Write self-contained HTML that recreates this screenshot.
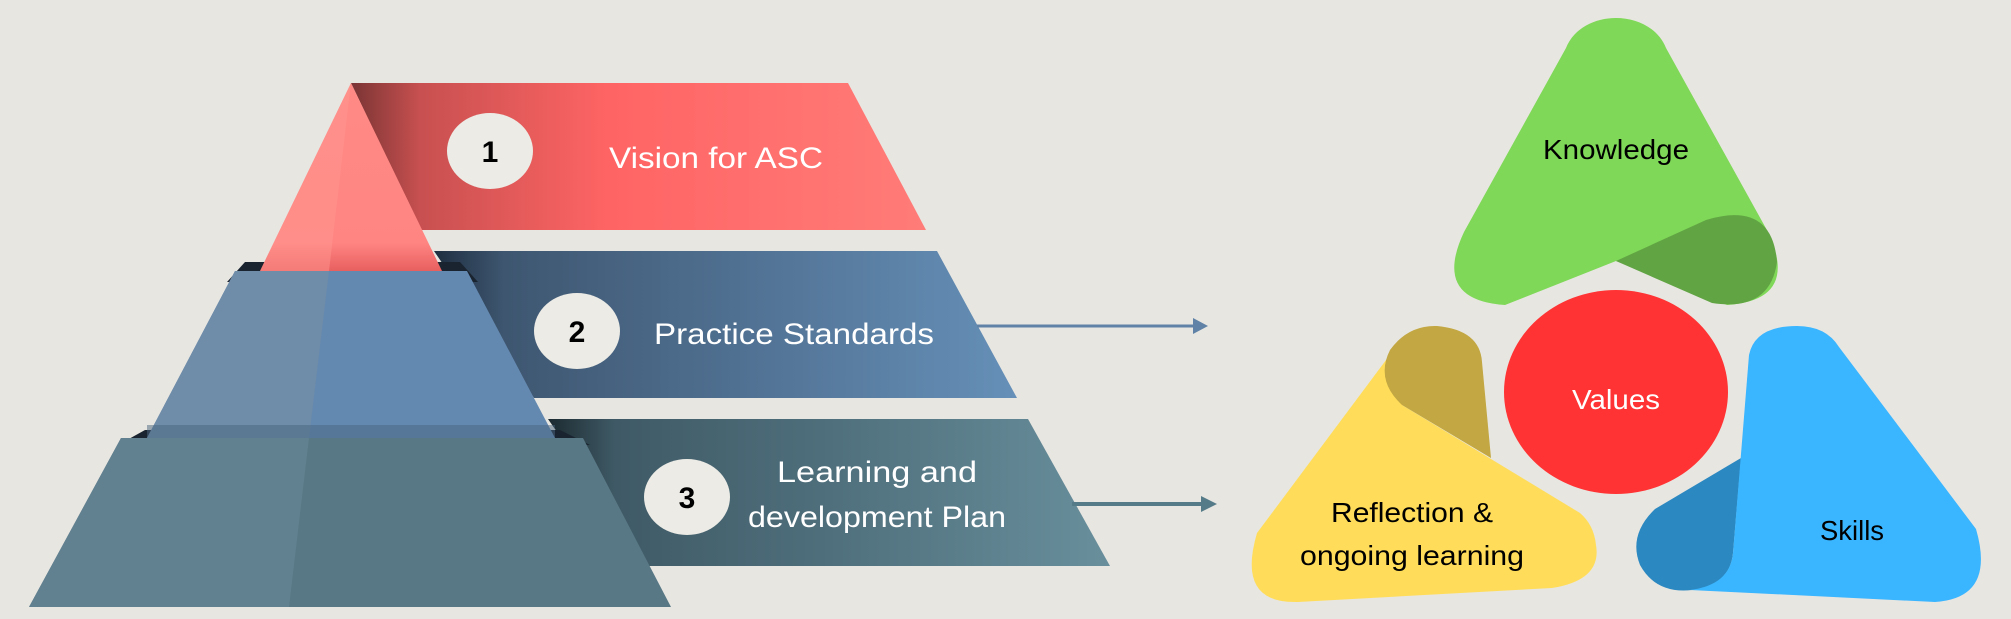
<!DOCTYPE html>
<html><head><meta charset="utf-8"><style>
html,body{margin:0;padding:0;background:#e8e6e1;}
svg{display:block;}
text{font-family:"Liberation Sans",sans-serif;}
</style></head><body>
<svg width="2011" height="619" viewBox="0 0 2011 619" xmlns="http://www.w3.org/2000/svg">
<defs>
<linearGradient id="gr" x1="0" x2="1" y1="0" y2="0">
<stop offset="0" stop-color="#7a3434"/><stop offset="0.12" stop-color="#c85050"/><stop offset="0.45" stop-color="#ff6464"/><stop offset="1" stop-color="#ff7c78"/></linearGradient>
<linearGradient id="gb" x1="0" x2="1" y1="0" y2="0">
<stop offset="0" stop-color="#1e2e40"/><stop offset="0.12" stop-color="#3e5670"/><stop offset="0.5" stop-color="#4f6f90"/><stop offset="1" stop-color="#6690b8"/></linearGradient>
<linearGradient id="gt" x1="0" x2="1" y1="0" y2="0">
<stop offset="0" stop-color="#1c2a30"/><stop offset="0.12" stop-color="#3f5a66"/><stop offset="0.5" stop-color="#4f6f7c"/><stop offset="1" stop-color="#698f9c"/></linearGradient>
<linearGradient id="gtri" x1="0" x2="0" y1="0" y2="1">
<stop offset="0" stop-color="#ff8a85"/><stop offset="0.85" stop-color="#ff8582"/><stop offset="1" stop-color="#e86060"/></linearGradient>
</defs>

<polygon points="351,83 848,83 926,230 421,230" fill="url(#gr)"/>
<polygon points="434,251 937,251 1017,398 534,398" fill="url(#gb)"/>
<polygon points="548,419 1028,419 1110,566 649,566" fill="url(#gt)"/>

<polygon points="227,282 245,262 460,262 478,282" fill="#1a2430"/>
<polygon points="118,445 145,430 560,430 590,445" fill="#1a2430"/>

<polygon points="351,83 442,271 260,271" fill="url(#gtri)"/>
<polygon points="351,83 329,271 260,271" fill="#ff9590" opacity="0.5"/>
<polygon points="235,271 467,271 555,438 147,438" fill="#6489b0"/>
<polygon points="235,271 329,271 309,438 147,438" fill="#6f8ca8"/>
<rect x="147" y="425" width="408" height="13" fill="#4a6580" opacity="0.5"/>
<polygon points="121,438 583,438 671,607 29,607" fill="#587885"/>
<polygon points="121,438 309,438 289,607 29,607" fill="#628190"/>

<ellipse cx="490" cy="151" rx="43" ry="38" fill="#ecebe5"/>
<ellipse cx="577" cy="331" rx="43" ry="38" fill="#ecebe5"/>
<ellipse cx="687" cy="497" rx="43" ry="38" fill="#ecebe5"/>
<text x="490" y="162" font-size="30" font-weight="bold" text-anchor="middle" fill="#000">1</text>
<text x="577" y="342" font-size="30" font-weight="bold" text-anchor="middle" fill="#000">2</text>
<text x="687" y="508" font-size="30" font-weight="bold" text-anchor="middle" fill="#000">3</text>

<text x="716" y="168" font-size="30" text-anchor="middle" fill="#fff" textLength="214" lengthAdjust="spacingAndGlyphs">Vision for ASC</text>
<text x="794" y="344" font-size="30" text-anchor="middle" fill="#fff" textLength="280" lengthAdjust="spacingAndGlyphs">Practice Standards</text>
<text x="877" y="482" font-size="30" text-anchor="middle" fill="#fff" textLength="200" lengthAdjust="spacingAndGlyphs">Learning and</text>
<text x="877" y="527" font-size="30" text-anchor="middle" fill="#fff" textLength="258" lengthAdjust="spacingAndGlyphs">development Plan</text>

<line x1="977" y1="326" x2="1195" y2="326" stroke="#5f82a6" stroke-width="3"/>
<polygon points="1193,318 1208,326 1193,334" fill="#5f82a6"/>
<line x1="1072" y1="504" x2="1203" y2="504" stroke="#557a88" stroke-width="4"/>
<polygon points="1201,496 1217,504 1201,512" fill="#557a88"/>

<path d="M1566,48 C1582,8 1650,8 1666,48 L1768,232 Q1800,300 1727,305 L1616,261 L1505,305 Q1432,300 1464,232 Z" fill="#7fd858"/>
<path d="M1616,261 L1706,220 Q1772,200 1777,262 Q1770,312 1712,303 Z" fill="#61a443"/>
<text x="1616" y="159" font-size="28" text-anchor="middle" fill="#000" textLength="146" lengthAdjust="spacingAndGlyphs">Knowledge</text>

<ellipse cx="1616" cy="392" rx="112" ry="102" fill="#ff3333"/>
<text x="1616" y="409" font-size="28" text-anchor="middle" fill="#fff" textLength="88" lengthAdjust="spacingAndGlyphs">Values</text>

<path d="M1392,352 L1257,533 Q1236,604 1298,602 L1552,588 Q1602,580 1596,545 Q1594,525 1580,513 L1402,405 Z" fill="#ffdd5a"/>
<path d="M1402,405 Q1375,380 1390,350 Q1408,325 1437,326 Q1480,330 1482,362 L1491,458 Z" fill="#c2a742"/>
<text x="1412" y="522" font-size="28" text-anchor="middle" fill="#000" textLength="162" lengthAdjust="spacingAndGlyphs">Reflection &amp;</text>
<text x="1412" y="565" font-size="28" text-anchor="middle" fill="#000" textLength="224" lengthAdjust="spacingAndGlyphs">ongoing learning</text>

<path d="M1741,458 L1655,509 Q1628,535 1640,565 Q1656,594 1692,590 Q1730,585 1733,553 Z" fill="#2b88c0"/>
<path d="M1749,355 Q1755,326 1797,326 Q1826,326 1839,347 L1976,529 Q1996,598 1935,602 L1690,590 Q1730,585 1733,553 Z" fill="#3ab5ff"/>
<text x="1852" y="540" font-size="28" text-anchor="middle" fill="#000" textLength="64" lengthAdjust="spacingAndGlyphs">Skills</text>
</svg>
</body></html>
